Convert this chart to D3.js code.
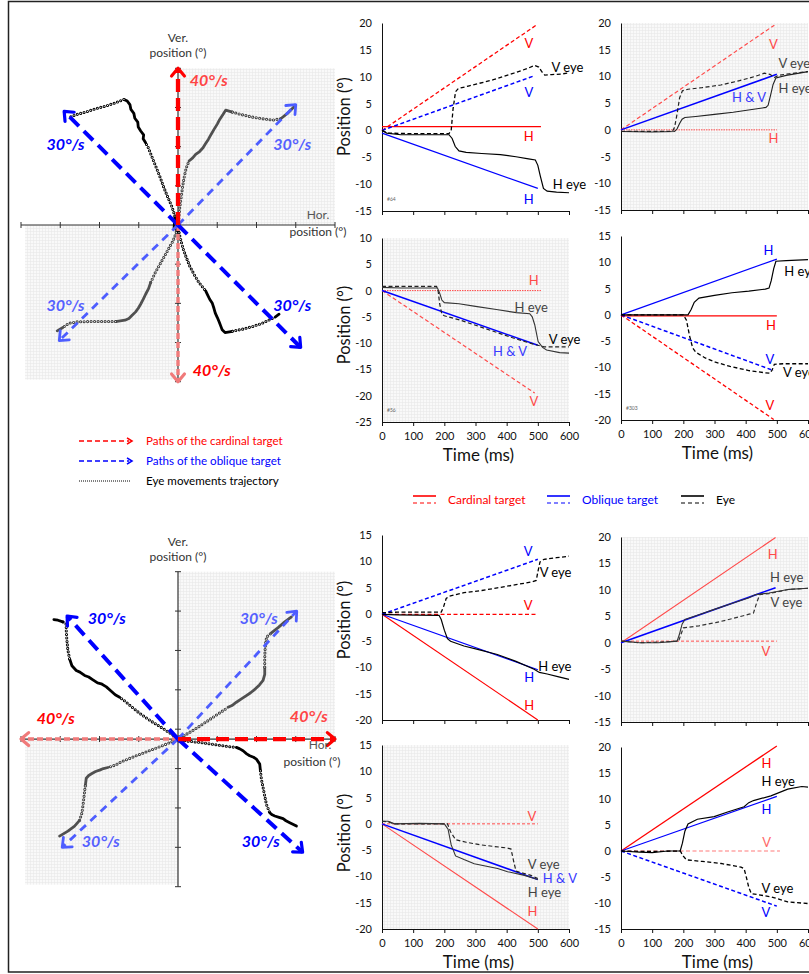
<!DOCTYPE html>
<html>
<head>
<meta charset="utf-8">
<script src="https://cdn.jsdelivr.net/npm/d3@7"></script>
<style>
  body { margin: 0; background: #fff; }
  svg { display: block; }
</style>
</head>
<body>
<svg id="fig" width="809" height="974"></svg>
<script>
// ---------- data: time courses (ms, deg) ----------
const timeTicks = [0, 100, 200, 300, 400, 500, 600];

// trial #64 (row 1, left)
const a_cardH = [[0, 0.7], [510, 0.7]];
const a_cardV = [[0, 0], [495, 19.6]];
const a_oblH = [[0, -0.5], [500, -10.8]];
const a_oblV = [[0, 0], [490, 10.2]];
const a_eyeH = [[0, 0], [15, -0.5], [60, -0.8], [150, -0.8], [215, -0.8], [225, -1.5], [235, -3], [247, -3.8], [270, -4.1], [320, -4.3], [380, -4.5], [430, -4.9], [470, -5.3], [492, -5.5], [500, -6.5], [508, -8.5], [518, -10.8], [530, -11.3], [560, -11.5], [600, -11.6]];
const a_eyeV = [[0, 0], [20, -0.5], [100, -0.6], [215, -0.6], [222, 0], [228, 4], [236, 7.2], [245, 7.8], [280, 8.3], [355, 9.4], [420, 10.6], [465, 11.5], [490, 12.1], [503, 11.8], [512, 11], [522, 10.3], [545, 10.4], [575, 10.5], [600, 10.7]];

// row 1, right
const b_cardH = [[0, 0], [500, 0]];
const b_cardV = [[0, 0], [492, 19.6]];
const b_obl = [[0, 0], [500, 10.4]];
const b_eyeH = [[0, -0.3], [100, -0.4], [172, -0.3], [180, 0.2], [188, 1.2], [196, 2], [205, 2.3], [240, 2.5], [300, 2.9], [360, 3.3], [420, 3.8], [465, 4.2], [472, 4.6], [480, 6.5], [488, 8.5], [497, 9.7], [530, 10.2], [600, 10.9]];
const b_eyeV = [[0, -0.3], [80, -0.3], [165, -0.3], [172, 0.5], [180, 3], [188, 6], [197, 7.3], [215, 7.6], [260, 7.9], [320, 8.4], [380, 9.2], [430, 10], [460, 10.6], [478, 10.4], [492, 9.8], [505, 10.2], [540, 10.5], [600, 10.9]];

// trial #56 (row 2, left)
const c_cardH = [[0, 0], [510, 0]];
const c_cardV = [[0, 0], [490, -19.5]];
const c_obl = [[0, 0], [500, -10.4]];
const c_eyeH = [[0, 0.6], [60, 0.5], [178, 0.5], [185, -0.5], [192, -1.8], [200, -2.3], [247, -2.5], [300, -3], [367, -3.6], [431, -4.2], [474, -4.4], [482, -5], [490, -6.5], [501, -9.7], [515, -10.8], [528, -11.3], [570, -11.8], [600, -11.9]];
const c_eyeV = [[0, 0.8], [50, 0.8], [175, 0.8], [180, 0], [185, -2.5], [192, -4.5], [200, -4.8], [250, -5.6], [300, -6.6], [370, -8], [430, -9.2], [475, -10], [500, -10.4], [520, -10.7], [560, -10.7], [600, -10.7]];

// trial #303 (row 2, right)
const d_cardH = [[0, -0.2], [500, -0.2]];
const d_cardV = [[0, 0], [490, -19.9]];
const d_oblH = [[0, 0], [500, 10.6]];
const d_oblV = [[0, 0], [490, -10.6]];
const d_eyeH = [[0, 0], [100, 0], [215, 0], [225, 1], [235, 2.4], [250, 3.2], [300, 3.7], [356, 4.2], [410, 4.5], [463, 4.9], [475, 5.1], [482, 6.5], [490, 8.8], [497, 10.2], [530, 10.3], [600, 10.5]];
const d_eyeV = [[0, 0], [100, 0], [200, 0], [210, -1], [220, -4], [230, -6.3], [240, -7.1], [270, -8.2], [303, -9], [350, -9.8], [410, -10.6], [460, -11], [478, -11.1], [485, -10.5], [492, -9.4], [520, -9.3], [600, -9.3]];

// row 3, left
const e_cardH = [[0, 0], [500, -20]];
const e_cardV = [[0, 0], [500, 0]];
const e_oblH = [[0, 0], [500, -10.5]];
const e_oblV = [[0, 0], [500, 10.4]];
const e_eyeH = [[0, 0], [50, -0.1], [183, -0.2], [190, -1], [200, -3], [210, -4.6], [220, -5.1], [263, -6], [310, -6.7], [370, -7.6], [430, -8.9], [488, -10.4], [505, -11], [530, -11.3], [564, -11.8], [600, -12.3]];
const e_eyeV = [[0, 0.3], [50, 0.4], [190, 0.4], [198, 1.5], [206, 3], [215, 3.4], [263, 4.1], [320, 4.5], [370, 5], [430, 5.6], [478, 6.1], [495, 6.4], [500, 8], [507, 9.9], [520, 10.4], [560, 10.7], [600, 11]];

// row 3, right
const f_cardH = [[0, 0], [496, 19.9]];
const f_cardV = [[0, 0.3], [500, 0.3]];
const f_obl = [[0, 0], [496, 10.4]];
const f_eyeH = [[0, 0.3], [60, 0], [120, 0], [180, 0.3], [187, 1.5], [196, 3.5], [205, 4.4], [250, 5.3], [304, 6.4], [360, 7.5], [411, 8.5], [432, 9.1], [475, 9.4], [540, 10.1], [600, 10.3]];
const f_eyeV = [[0, 0.3], [60, 0], [120, 0.1], [185, 0.3], [192, 1.5], [200, 2.8], [250, 3.2], [304, 3.8], [360, 4.6], [411, 5.4], [425, 5.6], [435, 7.5], [445, 9.1], [475, 9.3], [540, 10.1], [600, 10.3]];

// row 4, left
const g_cardH = [[0, 0], [500, -20]];
const g_cardV = [[0, 0], [500, 0]];
const g_obl = [[0, 0], [500, -10.6]];
const g_eyeH = [[0, 0.5], [20, 0.5], [40, 0], [120, 0.1], [200, 0], [212, -1], [222, -4], [236, -6.1], [263, -6.8], [296, -7.6], [371, -8.5], [403, -9.1], [457, -9.8], [500, -10.6]];
const g_eyeV = [[0, 0.5], [20, 0.4], [40, 0], [120, 0], [210, 0], [220, -1.5], [236, -3], [270, -3.5], [317, -4], [403, -4.6], [414, -4.8], [422, -7], [430, -9], [478, -9.8], [500, -10.4]];

// row 4, right
const h_cardH = [[0, 0], [500, 20.2]];
const h_cardV = [[0, 0], [510, 0]];
const h_oblH = [[0, 0], [500, 10.5]];
const h_oblV = [[0, 0], [500, -10.6]];
const h_eyeH = [[0, 0], [60, -0.2], [100, -0.3], [150, 0], [190, 0], [197, 1.5], [205, 3.8], [215, 5.2], [245, 6.1], [299, 6.6], [342, 7.5], [395, 8.5], [410, 9.3], [425, 9.7], [481, 10.6], [535, 11.9], [580, 12.4], [600, 12.3]];
const h_eyeV = [[0, 0], [100, -0.1], [190, 0], [200, -1], [210, -1.7], [260, -2], [321, -2.4], [385, -3.1], [395, -3.4], [402, -5], [410, -7], [418, -8.2], [481, -8.8], [535, -9.8], [600, -10.1]];

// ---------- data: 2-D trajectories (hor deg, ver deg, phase s = saccade / p = pursuit) ----------
const trajTicksH = [-16, -12, -8, -4, 0, 4, 8, 12, 16];
const trajTicksTopV = [-16, -12, -8, -4, 0, 4, 8, 12, 16];
const trajTicksBotV = [-15, -11, -7, -3, 1, 5, 9, 13, 17];

const topCardinalEnds = [[0, 16], [0, -16]];
const topObliqueEnds = [[-11.6, 11.6], [12.0, 12.3], [-12.1, -11.8], [12.5, -12.5]];
const botCardinalEnds = [[16, 0], [-16, 0]];
const botObliqueEnds = [[-11.3, 12.5], [12.1, 13.0], [-11.8, -11.0], [12.7, -11.5]];

const topUL = [[0, 0, "p"], [-0.4, -0.3, "p"], [-0.31, 0.92, "s"], [-0.65, 1.94, "s"], [-1.09, 2.96, "s"], [-1.5, 3.98, "s"], [-1.87, 5.0, "s"], [-2.28, 6.02, "s"], [-2.69, 7.04, "s"], [-3.03, 7.89, "s"],
  [-3.3, 8.4, "p"], [-3.55, 8.8, "p"], [-3.5, 9.2, "p"], [-3.8, 9.6, "p"], [-4.05, 10.0, "p"], [-4.1, 10.5, "p"], [-4.4, 10.9, "p"], [-4.5, 11.4, "p"], [-4.8, 11.8, "p"], [-4.9, 12.3, "p"], [-5.17, 12.65, "p"],
  [-5.51, 12.82, "s"], [-6.36, 12.48, "s"], [-7.38, 12.14, "s"], [-8.4, 11.87, "s"], [-9.42, 11.53, "s"], [-10.44, 11.25, "s"], [-11.12, 10.95, "s"]];
const topUR = [[0, 0, "p"], [0.2, -0.3, "p"], [0.05, 0.3, "s"], [0.1, 0.92, "s"], [0.2, 1.94, "s"], [0.34, 2.96, "s"], [0.48, 3.98, "s"], [0.65, 5.0, "s"], [0.85, 5.85, "s"],
  [1.12, 6.53, "p"], [1.5, 6.85, "p"], [1.8, 7.21, "p"], [2.2, 7.5, "p"], [2.55, 7.89, "p"], [2.8, 8.3, "p"], [3.09, 8.74, "p"], [3.4, 9.3, "p"], [3.67, 9.76, "p"], [4.0, 10.3, "p"], [4.25, 10.78, "p"], [4.6, 11.3, "p"], [4.86, 11.73, "p"],
  [5.54, 11.53, "s"], [6.56, 11.25, "s"], [7.58, 11.02, "s"], [8.6, 10.85, "s"], [9.62, 10.71, "s"], [10.47, 10.85, "p"], [11.15, 11.39, "p"], [11.83, 12.07, "p"]];
const topLL = [[0, 0, "p"], [-0.2, 0.3, "p"], [-0.17, -0.78, "s"], [-0.51, -1.63, "s"], [-0.99, -2.48, "s"], [-1.46, -3.33, "s"], [-1.94, -4.18, "s"], [-2.35, -4.93, "s"],
  [-2.79, -5.88, "p"], [-3.0, -6.5, "p"], [-3.3, -7.07, "p"], [-3.55, -7.6, "p"], [-3.81, -8.09, "p"], [-4.05, -8.5, "p"], [-4.32, -8.87, "p"], [-4.7, -9.25, "p"], [-5.0, -9.55, "p"], [-5.41, -9.72, "p"],
  [-6.36, -9.86, "s"], [-7.72, -9.86, "s"], [-9.08, -9.86, "s"], [-10.27, -9.89, "s"], [-11.12, -10.03, "s"], [-11.73, -10.47, "p"], [-12.31, -10.81, "p"]];
const topLR = [[0, 0, "p"], [-0.2, -0.3, "p"], [0.1, -0.78, "s"], [0.31, -1.63, "s"], [0.54, -2.48, "s"], [0.85, -3.33, "s"], [1.19, -4.18, "s"], [1.63, -5.03, "s"], [2.14, -5.88, "s"],
  [2.82, -6.73, "p"], [3.0, -7.1, "p"], [3.23, -7.58, "p"], [3.5, -8.0, "p"], [3.67, -8.53, "p"], [3.8, -9.0, "p"], [4.01, -9.45, "p"], [4.2, -9.9, "p"], [4.35, -10.3, "p"], [4.5, -10.7, "p"], [4.79, -10.98, "p"],
  [5.54, -10.85, "s"], [6.56, -10.64, "s"], [7.58, -10.37, "s"], [8.6, -10.03, "s"], [9.45, -9.62, "s"], [9.9, -9.4, "p"], [10.3, -9.11, "p"]];

const botUL = [[0, 0, "p"], [0.2, -0.2, "p"], [-0.51, 0.41, "s"], [-1.19, 0.85, "s"], [-1.87, 1.29, "s"], [-2.55, 1.7, "s"], [-3.23, 2.14, "s"], [-3.91, 2.62, "s"], [-4.59, 3.16, "s"], [-5.27, 3.74, "s"],
  [-5.95, 4.25, "p"], [-6.4, 4.5, "p"], [-6.8, 4.86, "p"], [-7.3, 5.3, "p"], [-7.82, 5.61, "p"], [-8.2, 5.7, "p"], [-8.67, 6.02, "p"], [-9.1, 6.3, "p"], [-9.52, 6.46, "p"], [-10.0, 6.8, "p"], [-10.37, 6.97, "p"], [-10.81, 7.45, "p"],
  [-11.05, 8.16, "s"], [-11.22, 9.01, "s"], [-11.32, 10.03, "s"], [-11.39, 11.05, "s"], [-11.39, 11.66, "s"],
  [-11.73, 11.9, "p"], [-12.24, 12.07, "p"], [-12.65, 12.14, "p"]];
const botUR = [[0, 0, "p"], [-0.2, 0.2, "p"], [0.61, 0.34, "s"], [1.36, 0.78, "s"], [2.14, 1.26, "s"], [2.92, 1.77, "s"], [3.67, 2.28, "s"], [4.35, 2.72, "s"],
  [5.1, 3.23, "p"], [5.5, 3.4, "p"], [5.95, 3.74, "p"], [6.5, 4.1, "p"], [6.97, 4.42, "p"], [7.4, 4.7, "p"], [7.89, 5.1, "p"], [8.3, 5.5, "p"], [8.67, 5.95, "p"], [8.84, 6.56, "p"],
  [8.84, 7.31, "s"], [8.84, 8.16, "s"], [8.87, 9.01, "s"], [8.94, 9.86, "s"], [9.04, 10.37, "s"],
  [9.52, 10.78, "p"], [10.2, 11.32, "p"], [10.88, 11.9, "p"], [11.56, 12.41, "p"]];
const botLL = [[0, 0, "p"], [0.2, 0.2, "p"], [-0.61, -0.27, "s"], [-1.43, -0.61, "s"], [-2.31, -0.95, "s"], [-3.2, -1.29, "s"], [-4.08, -1.63, "s"], [-4.93, -1.97, "s"], [-5.78, -2.31, "s"], [-6.39, -2.65, "s"],
  [-7.14, -2.89, "p"], [-7.6, -3.0, "p"], [-7.99, -3.16, "p"], [-8.4, -3.3, "p"], [-8.77, -3.5, "p"], [-9.1, -3.7, "p"], [-9.35, -3.98, "p"],
  [-9.45, -4.76, "s"], [-9.55, -5.61, "s"], [-9.66, -6.56, "s"], [-9.79, -7.51, "s"],
  [-10.03, -8.26, "p"], [-10.54, -8.84, "p"], [-11.22, -9.35, "p"], [-12.07, -9.86, "p"]];
const botLR = [[0, 0, "p"], [0.1, -0.2, "p"], [0.68, -0.17, "s"], [1.53, -0.27, "s"], [2.45, -0.37, "s"], [3.4, -0.51, "s"], [4.35, -0.65, "s"], [5.27, -0.78, "s"],
  [5.95, -0.85, "p"], [6.3, -1.0, "p"], [6.63, -1.19, "p"], [7.0, -1.5, "p"], [7.31, -1.7, "p"], [7.7, -1.85, "p"], [7.99, -2.04, "p"], [8.33, -2.55, "p"],
  [8.4, -3.23, "s"], [8.5, -4.08, "s"], [8.67, -4.93, "s"], [8.84, -5.78, "s"], [9.01, -6.63, "s"],
  [9.35, -7.48, "p"], [9.6, -7.7, "p"], [9.86, -7.82, "p"], [10.3, -7.95, "p"], [10.71, -8.09, "p"], [11.0, -8.3, "p"], [11.39, -8.5, "p"], [12.07, -8.84, "p"]];

// ---------- styles ----------
const FONT = "Lato, 'Open Sans', 'DejaVu Sans', sans-serif";
const RED = "#ff0000", RED2 = "#ff4a4a", BLUE = "#0000ff", BLUE2 = "#3a3aff", BLACK = "#000", GREY = "#444";
const DASH = "4,2.5";

const svg = d3.select("#fig").attr("font-family", FONT);

svg.append("rect").attr("width", 809).attr("height", 974).attr("fill", "#fff");

const defs = svg.append("defs");
const mesh = defs.append("pattern")
  .attr("id", "mesh")
  .attr("width", 3)
  .attr("height", 3)
  .attr("patternUnits", "userSpaceOnUse");
mesh.append("rect").attr("width", 3).attr("height", 3).attr("fill", "#f9f9f9");
mesh.append("path")
  .attr("d", "M0,0.5H3M0.5,0V3")
  .attr("stroke", "#e8e8e8")
  .attr("stroke-width", 0.6);

// frame
svg.append("path")
  .attr("d", "M840,1.5H8.5V972H840")
  .attr("fill", "none")
  .attr("stroke", "#222")
  .attr("stroke-width", 1.5);

// ---------- time-course panels ----------
const panels = [
  { left: 382, top: 23, bottom: 211, yDom: [-15, 20], mesh: false, xLabels: false, title: 116.7, tag: "#64",
    lines: [
      { d: a_cardV, c: RED, dash: DASH, w: 1.3 }, { d: a_cardH, c: RED, w: 1.3 },
      { d: a_oblV, c: BLUE, dash: DASH, w: 1.5 }, { d: a_oblH, c: BLUE, w: 1.2 },
      { d: a_eyeV, c: BLACK, dash: DASH, w: 1.3 }, { d: a_eyeH, c: BLACK, w: 1.2 }],
    notes: [["V", 471, 16.2, RED], ["V eye", 544, 11.7, BLACK, "start"], ["V", 471, 7, BLUE], ["H", 471, -1.2, RED],
      ["H eye", 548, -10, BLACK, "start"], ["H", 471, -12.8, BLUE]] },
  { left: 621, top: 23, bottom: 210, yDom: [-15, 20], mesh: true, xLabels: false,
    lines: [
      { d: b_cardV, c: RED2, dash: DASH, w: 1.2 }, { d: b_cardH, c: RED2, dash: "1.5,1", w: 1 },
      { d: b_obl, c: BLUE, w: 1.5 },
      { d: b_eyeV, c: "#222", dash: DASH, w: 1.2 }, { d: b_eyeH, c: "#222", w: 1.1 }],
    notes: [["V", 489, 16, RED2], ["V eye", 505, 12.5, GREY, "start"], ["H eye", 505, 7.8, GREY, "start"],
      ["H & V", 411, 6, BLUE2], ["H", 489, -1.6, RED2]] },
  { left: 382, top: 238, bottom: 422, yDom: [-25, 10], mesh: true, xLabels: true, title: 325, tag: "#56",
    lines: [
      { d: c_cardH, c: RED2, dash: "1.5,1", w: 1 }, { d: c_cardV, c: RED2, dash: DASH, w: 1.2 },
      { d: c_obl, c: BLUE, w: 1.5 },
      { d: c_eyeV, c: "#222", dash: DASH, w: 1.2 }, { d: c_eyeH, c: "#333", w: 1.1 }],
    notes: [["H", 487, 1.9, RED2], ["H eye", 479, -3.2, GREY], ["V eye", 535, -9.3, BLACK, "start"],
      ["H & V", 411, -11.6, BLUE2], ["V", 487, -21, RED2]] },
  { left: 621, top: 236, bottom: 420, yDom: [-20, 15], mesh: false, xLabels: true, tag: "#303",
    lines: [
      { d: d_cardH, c: RED, w: 1.3 }, { d: d_cardV, c: RED, dash: DASH, w: 1.3 },
      { d: d_oblH, c: BLUE, w: 1.2 }, { d: d_oblV, c: BLUE, dash: DASH, w: 1.5 },
      { d: d_eyeV, c: BLACK, dash: DASH, w: 1.3 }, { d: d_eyeH, c: BLACK, w: 1.2 }],
    notes: [["H", 473, 12.2, BLUE], ["H eye", 524, 8.2, BLACK, "start"], ["H", 481, -2, RED], ["V", 478, -8.5, BLUE],
      ["V eye", 520, -11, BLACK, "start"], ["V", 478, -17.2, RED]] },
  { left: 382, top: 535, bottom: 720, yDom: [-20, 15], mesh: false, xLabels: false, title: 620,
    lines: [
      { d: e_cardH, c: RED, w: 1.1 }, { d: e_cardV, c: RED, dash: DASH, w: 1.2 },
      { d: e_oblH, c: BLUE, w: 1.2 }, { d: e_oblV, c: BLUE, dash: DASH, w: 1.5 },
      { d: e_eyeV, c: BLACK, dash: DASH, w: 1.3 }, { d: e_eyeH, c: BLACK, w: 1.2 }],
    notes: [["V", 469, 11.8, BLUE], ["V eye", 506, 7.9, BLACK, "start"], ["V", 469, 1.7, RED],
      ["H eye", 501, -9.9, BLACK, "start"], ["H", 472, -12, BLUE], ["H", 472, -17.2, RED]] },
  { left: 621, top: 537, bottom: 722, yDom: [-15, 20], mesh: true, xLabels: false,
    lines: [
      { d: f_cardH, c: RED2, w: 1.1 }, { d: f_cardV, c: RED2, dash: "3,2", w: 1 },
      { d: f_obl, c: BLUE, w: 1.5 },
      { d: f_eyeV, c: "#333", dash: DASH, w: 1.2 }, { d: f_eyeH, c: "#333", w: 1.1 }],
    notes: [["H", 487, 16.7, RED2], ["H eye", 478, 12.3, GREY, "start"], ["V eye", 480, 7.6, GREY, "start"], ["V", 465, -1.7, RED2]] },
  { left: 382, top: 745, bottom: 929, yDom: [-20, 15], mesh: true, xLabels: true, title: 833,
    lines: [
      { d: g_cardV, c: RED2, dash: "3,2", w: 1 }, { d: g_cardH, c: RED2, w: 1.1 },
      { d: g_obl, c: BLUE, w: 1.5 },
      { d: g_eyeV, c: "#222", dash: DASH, w: 1.2 }, { d: g_eyeH, c: "#333", w: 1.1 }],
    notes: [["V", 481, 1.4, RED2], ["V eye", 468, -7.7, GREY, "start"], ["H & V", 516, -10.3, BLUE2, "start"],
      ["H eye", 468, -13, GREY, "start"], ["H", 483, -16.7, RED2]] },
  { left: 621, top: 747, bottom: 929, yDom: [-15, 20], mesh: false, xLabels: true,
    lines: [
      { d: h_cardH, c: RED, w: 1.3 }, { d: h_cardV, c: "#ff7a7a", dash: DASH, w: 1.2 },
      { d: h_oblH, c: BLUE, w: 1.2 }, { d: h_oblV, c: BLUE, dash: DASH, w: 1.5 },
      { d: h_eyeV, c: BLACK, dash: DASH, w: 1.3 }, { d: h_eyeH, c: BLACK, w: 1.2 }],
    notes: [["H", 467, 16.9, RED], ["H eye", 451, 13.4, BLACK, "start"], ["H", 467, 8, BLUE], ["V", 467, 1.6, "#ff6a6a"],
      ["V eye", 451, -7.2, BLACK, "start"], ["V", 465, -11.9, BLUE]] }
];

function timePanel(p) {
  const x = d3.scaleLinear().domain([0, 600]).range([p.left, p.left + 187]);
  const y = d3.scaleLinear().domain(p.yDom).range([p.bottom, p.top]);
  const g = svg.append("g");

  if (p.mesh) {
    g.append("rect")
      .attr("x", x(0))
      .attr("y", y(p.yDom[1]))
      .attr("width", x(600) - x(0))
      .attr("height", y(p.yDom[0]) - y(p.yDom[1]))
      .attr("fill", "url(#mesh)");
  }

  g.append("g")
    .attr("transform", `translate(${x(0)},0)`)
    .call(d3.axisLeft(y).tickValues(d3.range(p.yDom[0], p.yDom[1] + 1, 5))
      .tickSize(0).tickSizeOuter(0).tickPadding(10).tickFormat((d) => String(d)))
    .attr("font-family", FONT)
    .attr("font-size", 11)
    .call((a) => a.select(".domain").attr("stroke", "#111"))
    .selectAll("text").attr("fill", "#111");

  g.append("g")
    .attr("transform", `translate(0,${y(p.yDom[0])})`)
    .call(d3.axisBottom(x).tickValues(timeTicks).tickSize(4).tickSizeOuter(0)
      .tickPadding(6).tickFormat(p.xLabels ? (d) => String(d) : ""))
    .attr("font-family", FONT)
    .attr("font-size", 11)
    .call((a) => a.select(".domain").attr("stroke", "#111"))
    .call((a) => a.selectAll("line").attr("stroke", "#111"))
    .selectAll("text").attr("fill", "#111");

  const line = d3.line().x((d) => x(d[0])).y((d) => y(d[1]));
  p.lines.forEach((l) => {
    g.append("path")
      .datum(l.d)
      .attr("fill", "none")
      .attr("stroke", l.c)
      .attr("stroke-width", l.w)
      .attr("stroke-dasharray", l.dash || null)
      .attr("d", line);
  });

  p.notes.forEach(([t, ms, v, c, anchor]) => {
    g.append("text")
      .attr("x", x(ms))
      .attr("y", y(v))
      .attr("dy", "0.35em")
      .attr("text-anchor", anchor || "middle")
      .attr("font-size", 13)
      .attr("fill", c)
      .text(t);
  });

  if (p.tag) {
    g.append("text")
      .attr("x", x(0) + 5)
      .attr("y", y(p.yDom[0]) - 10)
      .attr("font-size", 5)
      .attr("fill", "#666")
      .text(p.tag);
  }

  if (p.title) {
    g.append("text")
      .attr("transform", `translate(344,${p.title}) rotate(-90)`)
      .attr("text-anchor", "middle")
      .attr("dy", "0.35em")
      .attr("font-size", 16.5)
      .attr("fill", "#111")
      .text("Position (°)");
  }

  if (p.xLabels) {
    g.append("text")
      .attr("x", (x(0) + x(600)) / 2 + 3)
      .attr("y", y(p.yDom[0]) + 33)
      .attr("dy", "0.35em")
      .attr("text-anchor", "middle")
      .attr("font-size", 17)
      .attr("fill", "#111")
      .text("Time (ms)");
  }
}

panels.forEach(timePanel);

// ---------- trajectory panels ----------
function splitRuns(pts) {
  const out = [];
  let cur = [pts[0]];
  let ph = pts[0][2];
  for (let i = 1; i < pts.length; i++) {
    cur.push(pts[i]);
    if (pts[i][2] !== ph) {
      out.push({ ph, pts: cur });
      cur = [pts[i]];
      ph = pts[i][2];
    }
  }
  if (cur.length > 1) out.push({ ph, pts: cur });
  return out;
}

const arrowStyles = {
  redDark: { c: RED, w: 4.3, dash: "13,6" },
  redLight: { c: "#f07a7a", w: 3.4, dash: "6,3" },
  blueDark: { c: BLUE, w: 4, dash: "13,7" },
  blueLight: { c: "#4d5dff", w: 2.8, dash: "8,6" }
};

function trajPanel(c) {
  const x = d3.scaleLinear().domain([-16, 16]).range([21, 335]);
  const y = d3.scaleLinear().domain(c.yDom).range([c.bottom, c.top]);
  const g = svg.append("g");

  // shaded quadrants
  g.append("rect")
    .attr("x", x(0)).attr("y", y(c.yDom[1]))
    .attr("width", x(16) - x(0)).attr("height", y(0) - y(c.yDom[1]))
    .attr("fill", "url(#mesh)");
  g.append("rect")
    .attr("x", x(-16) + 4).attr("y", y(0))
    .attr("width", x(0) - x(-16) - 4).attr("height", y(c.yDom[0]) - y(0) - 2)
    .attr("fill", "url(#mesh)");

  // axes
  g.append("line")
    .attr("x1", x(-16)).attr("x2", x(16)).attr("y1", y(0)).attr("y2", y(0))
    .attr("stroke", "#333").attr("stroke-width", 1.2);
  g.append("line")
    .attr("x1", x(0)).attr("x2", x(0)).attr("y1", y(c.yDom[0])).attr("y2", y(c.yDom[1]))
    .attr("stroke", "#333").attr("stroke-width", 1.2);
  g.selectAll(".htick").data(trajTicksH).join("line")
    .attr("x1", (d) => x(d)).attr("x2", (d) => x(d))
    .attr("y1", y(0) - 3).attr("y2", y(0) + 3)
    .attr("stroke", "#333");
  g.selectAll(".vtick").data(c.vTicks).join("line")
    .attr("x1", x(0) - 3).attr("x2", x(0) + 3)
    .attr("y1", (d) => y(d)).attr("y2", (d) => y(d))
    .attr("stroke", "#333");

  // eye trajectories
  const line = d3.line().x((d) => x(d[0])).y((d) => y(d[1]));
  c.eyes.forEach(({ pts, tone }) => {
    const col = tone === "light" ? "#3a3a3a" : "#000";
    splitRuns(pts).forEach((r) => {
      if (r.ph === "p") {
        g.append("path").datum(r.pts)
          .attr("fill", "none").attr("stroke", tone === "light" ? "#505050" : "#000")
          .attr("stroke-width", 2.8).attr("stroke-linejoin", "round").attr("stroke-linecap", "round")
          .attr("d", line);
      } else {
        g.append("path").datum(r.pts)
          .attr("fill", "none").attr("stroke", col)
          .attr("stroke-width", 3.1).attr("stroke-linecap", "round")
          .attr("stroke-dasharray", "0,3.5")
          .attr("d", line);
        g.append("path").datum(r.pts)
          .attr("fill", "none").attr("stroke", "#fff")
          .attr("stroke-width", 1.2).attr("stroke-linecap", "round")
          .attr("stroke-dasharray", "0,3.5")
          .attr("d", line);
      }
    });
  });

  // target paths
  c.arrows.forEach(({ end, style }) => {
    const s = arrowStyles[style];
    const x0 = x(0), y0 = y(0), x1 = x(end[0]), y1 = y(end[1]);
    const ang = Math.atan2(y1 - y0, x1 - x0);
    g.append("line")
      .attr("x1", x0).attr("y1", y0).attr("x2", x1).attr("y2", y1)
      .attr("stroke", s.c).attr("stroke-width", s.w)
      .attr("stroke-dasharray", s.dash);
    const len = 10, spread = 0.7;
    const pts = [
      [x1 - len * Math.cos(ang - spread), y1 - len * Math.sin(ang - spread)],
      [x1, y1],
      [x1 - len * Math.cos(ang + spread), y1 - len * Math.sin(ang + spread)]
    ];
    g.append("path")
      .attr("d", d3.line()(pts))
      .attr("fill", "none").attr("stroke", s.c)
      .attr("stroke-width", Math.min(s.w, 3.2))
      .attr("stroke-linecap", "round").attr("stroke-linejoin", "round");
  });

  // speed labels
  c.speeds.forEach(([t, h, v, col]) => {
    g.append("text")
      .attr("x", x(h)).attr("y", y(v)).attr("dy", "0.35em")
      .attr("font-size", 16).attr("font-weight", "bold").attr("font-style", "italic")
      .attr("fill", col)
      .text(t);
  });

  // axis names
  g.append("text")
    .attr("x", x(0)).attr("y", y(c.yDom[1]) - 26)
    .attr("text-anchor", "middle").attr("font-size", 12).attr("fill", "#333")
    .call((t) => {
      t.append("tspan").attr("x", x(0)).attr("dy", 0).text("Ver.");
      t.append("tspan").attr("x", x(0)).attr("dy", 15).text("position (°)");
    });
  g.append("text")
    .attr("y", y(0) + c.horDy)
    .attr("text-anchor", "middle").attr("font-size", 12).attr("fill", "#333")
    .call((t) => {
      t.append("tspan").attr("x", c.horX[0]).attr("dy", 0).attr("fill", "#555").text("Hor.");
      t.append("tspan").attr("x", c.horX[1]).attr("dy", 17).text("position (°)");
    });
}

trajPanel({
  top: 68.3, bottom: 381.7, yDom: [-16, 16], vTicks: trajTicksTopV,
  horDy: -6, horX: [318, 318],
  eyes: [{ pts: topUL, tone: "dark" }, { pts: topUR, tone: "light" }, { pts: topLL, tone: "light" }, { pts: topLR, tone: "dark" }],
  arrows: [
    { end: topCardinalEnds[1], style: "redLight" },
    { end: topObliqueEnds[1], style: "blueLight" },
    { end: topObliqueEnds[2], style: "blueLight" },
    { end: topObliqueEnds[0], style: "blueDark" },
    { end: topObliqueEnds[3], style: "blueDark" },
    { end: topCardinalEnds[0], style: "redDark" }
  ],
  speeds: [
    ["40°/s", 1.2, 14.8, "#ff4545"], ["40°/s", 1.5, -14.8, RED],
    ["30°/s", -13.4, 8.2, BLUE], ["30°/s", 9.7, 8.2, "#5560ff"],
    ["30°/s", -13.4, -8.2, "#5560ff"], ["30°/s", 9.7, -8.2, BLUE]
  ]
});

trajPanel({
  top: 571.7, bottom: 886.7, yDom: [-15, 17], vTicks: trajTicksBotV,
  horDy: 10, horX: [320, 312],
  eyes: [{ pts: botUL, tone: "dark" }, { pts: botUR, tone: "light" }, { pts: botLL, tone: "light" }, { pts: botLR, tone: "dark" }],
  arrows: [
    { end: botCardinalEnds[1], style: "redLight" },
    { end: botObliqueEnds[1], style: "blueLight" },
    { end: botObliqueEnds[2], style: "blueLight" },
    { end: botObliqueEnds[0], style: "blueDark" },
    { end: botObliqueEnds[3], style: "blueDark" },
    { end: botCardinalEnds[0], style: "redDark" }
  ],
  speeds: [
    ["40°/s", -14.4, 2.1, RED], ["40°/s", 11.4, 2.3, "#ff4545"],
    ["30°/s", -9.2, 12.3, BLUE], ["30°/s", 6.3, 12.3, "#5560ff"],
    ["30°/s", -9.8, -10.4, "#5560ff"], ["30°/s", 6.5, -10.4, BLUE]
  ]
});

// ---------- legends ----------
const pathLegend = [
  { label: "Paths of the cardinal target", c: RED, kind: "arrow" },
  { label: "Paths of the oblique target", c: BLUE, kind: "arrow" },
  { label: "Eye movements trajectory", c: BLACK, kind: "dots" }
];
const lg = svg.append("g");
const lgY = d3.scalePoint().domain(pathLegend.map((d) => d.label)).range([441, 481]);
pathLegend.forEach((d) => {
  const yy = lgY(d.label);
  if (d.kind === "arrow") {
    lg.append("line").attr("x1", 79).attr("x2", 129).attr("y1", yy).attr("y2", yy)
      .attr("stroke", d.c).attr("stroke-width", 1.6).attr("stroke-dasharray", "5,3");
    lg.append("path").attr("d", `M127,${yy - 3.2}L132,${yy}L127,${yy + 3.2}`)
      .attr("fill", "none").attr("stroke", d.c).attr("stroke-width", 1.6);
  } else {
    lg.append("line").attr("x1", 79).attr("x2", 131).attr("y1", yy).attr("y2", yy)
      .attr("stroke", d.c).attr("stroke-width", 1).attr("stroke-dasharray", "1,1");
  }
  lg.append("text").attr("x", 146).attr("y", yy).attr("dy", "0.35em")
    .attr("font-size", 11.6).attr("fill", d.c).text(d.label);
});

const lineLegend = [
  { label: "Cardinal target", c: RED, x: 413 },
  { label: "Oblique target", c: BLUE, x: 547 },
  { label: "Eye", c: BLACK, x: 681 }
];
lineLegend.forEach((d) => {
  lg.append("line").attr("x1", d.x).attr("x2", d.x + 23).attr("y1", 496).attr("y2", 496)
    .attr("stroke", d.c).attr("stroke-width", 1.6);
  lg.append("line").attr("x1", d.x).attr("x2", d.x + 23).attr("y1", 503).attr("y2", 503)
    .attr("stroke", d.c).attr("stroke-width", 1.2).attr("stroke-dasharray", "4,3");
  lg.append("text").attr("x", d.x + 35).attr("y", 500).attr("dy", "0.35em")
    .attr("font-size", 12).attr("fill", d.c).text(d.label);
});
</script>
</body>
</html>
